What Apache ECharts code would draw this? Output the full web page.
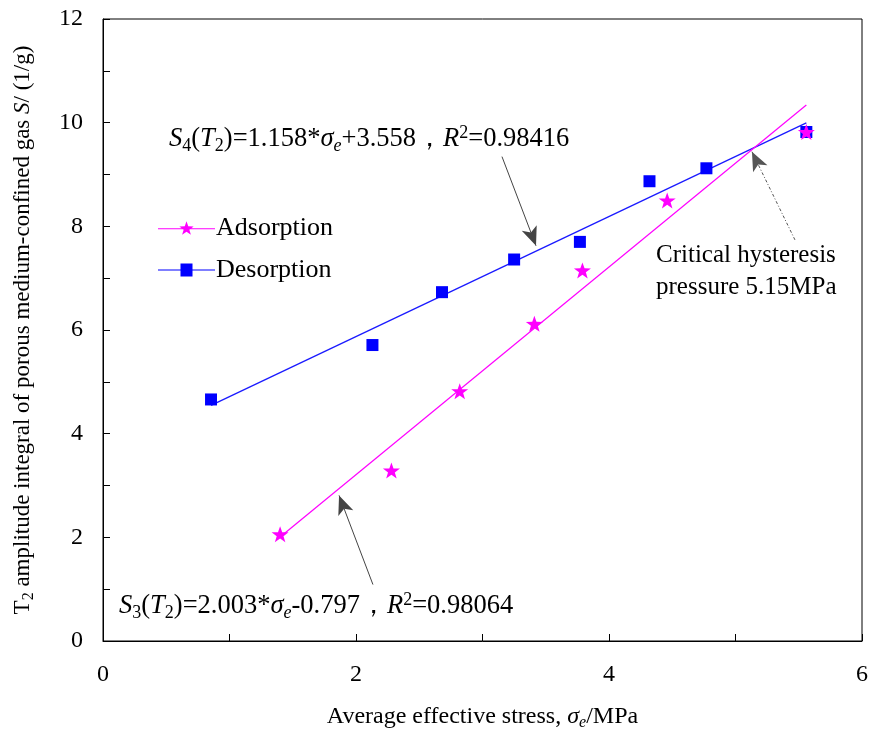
<!DOCTYPE html>
<html>
<head>
<meta charset="utf-8">
<script src="https://cdn.jsdelivr.net/npm/echarts@6/dist/echarts.min.js"></script>
<style>html,body{margin:0;padding:0;background:#fff}#c{width:875px;height:736px}</style>
</head>
<body>
<div id="c"></div>
<script>
// ---- data ----
const adsX = [1.40, 2.28, 2.82, 3.41, 3.79, 4.46, 5.56];
const adsY = [2.06, 3.29, 4.82, 6.12, 7.15, 8.50, 9.82];
const desX = [0.854, 2.13, 2.68, 3.25, 3.77, 4.32, 4.77, 5.56];
const desY = [4.66, 5.71, 6.73, 7.36, 7.70, 8.87, 9.12, 9.82];
// fitted lines (end points, from the printed regressions)
const adsFitX = [1.40, 5.56];
const adsFitY = [2.007, 10.34];
const desFitX = [0.854, 5.56];
const desFitY = [4.547, 9.996];
// annotation arrows [tailX, tailY, tipX, tipY] in data units
const arrowS4 = [3.154, 9.345, 3.423, 7.625];
const arrowS3 = [2.134, 1.089, 1.866, 2.809];
const arrowCrit = [5.470, 7.739, 5.130, 9.440];
const xTicks = {min: 0, max: 6, interval: 2};
const yTicks = {min: 0, max: 12, interval: 2};

const FONT = '"Liberation Serif","Times New Roman",serif';
const zip = (xs, ys) => xs.map((x, i) => [x, ys[i]]);

const STAR = 'path://M0,-7.5L1.763,-2.427L7.133,-2.318L2.853,0.927L4.408,6.068L0,3L-4.408,6.068L-2.853,0.927L-7.133,-2.318L-1.763,-2.427Z';
const STAR_LEG = 'path://M0,7L57,7L57,8L0,8Z M28.5,0L30.26,5.07L35.63,5.18L31.35,8.43L32.91,13.57L28.5,10.5L24.09,13.57L25.65,8.43L21.37,5.18L26.74,5.07Z';
const SQ_LEG = 'path://M0,7L57,7L57,8L0,8Z M22.5,1L34.5,1L34.5,14L22.5,14Z';

function mkRich(fs, sfs, lh) {
  return {
    n: {fontFamily: FONT, fontSize: fs, color: '#000', lineHeight: lh},
    i: {fontFamily: FONT, fontSize: fs, fontStyle: 'italic', color: '#000', lineHeight: lh},
    sub: {fontFamily: FONT, fontSize: sfs, color: '#000', lineHeight: sfs, verticalAlign: 'bottom'},
    isub: {fontFamily: FONT, fontSize: sfs, fontStyle: 'italic', color: '#000', lineHeight: sfs, verticalAlign: 'bottom'},
    sup: {fontFamily: FONT, fontSize: sfs, color: '#000', lineHeight: sfs, verticalAlign: 'top'}
  };
}
const richAnn = mkRich(26.5, 18, 31);
const richY = mkRich(23, 16, 28);
const richX = mkRich(24, 16, 28);

function arrowLine(a, dashed) {
  return {
    type: 'line', silent: true, data: [],
    markLine: {
      silent: true, animation: false,
      symbol: ['none', 'arrow'], symbolSize: [12, 19],
      label: {show: false},
      lineStyle: {color: dashed ? '#555' : '#444', width: 1, type: dashed ? [3, 2, 1, 2] : 'solid'},
      itemStyle: {color: '#000'},
      data: [[{coord: [a[0], a[1]]}, {coord: [a[2], a[3]]}]]
    }
  };
}

const chart = echarts.init(document.getElementById('c'));
chart.setOption({
  animation: false,
  backgroundColor: '#fff',
  grid: {left: 103, right: 13, top: 19, bottom: 89, show: true, borderColor: '#000', borderWidth: 1},
  xAxis: {
    type: 'value', min: xTicks.min, max: xTicks.max, interval: xTicks.interval,
    name: 'Average effective stress, {i|σ}{isub|e}{n|/MPa}',
    nameLocation: 'middle', nameGap: 62,
    nameTextStyle: {fontFamily: FONT, fontSize: 24, color: '#000', rich: richX},
    axisLine: {show: true, lineStyle: {color: '#000', width: 1}},
    axisTick: {show: true, inside: true, length: 7, lineStyle: {color: '#000'}},
    minorTick: {show: true, splitNumber: 2, length: 7, lineStyle: {color: '#000'}},
    axisLabel: {fontFamily: FONT, fontSize: 24, color: '#000', margin: 22},
    splitLine: {show: false}
  },
  yAxis: {
    type: 'value', min: yTicks.min, max: yTicks.max, interval: yTicks.interval,
    name: '{n|T}{sub|2}{n| amplitude integral of porous medium-confined gas }{i|S}{n|/ (1/g)}',
    nameLocation: 'middle', nameGap: 66,
    nameTextStyle: {fontFamily: FONT, fontSize: 23, color: '#000', rich: richY},
    axisLine: {show: true, lineStyle: {color: '#000', width: 1}},
    axisTick: {show: true, inside: true, length: 7, lineStyle: {color: '#000'}},
    minorTick: {show: true, splitNumber: 2, length: 7, lineStyle: {color: '#000'}},
    axisLabel: {fontFamily: FONT, fontSize: 24, color: '#000', margin: 20},
    splitLine: {show: false}
  },
  legend: {
    orient: 'vertical', left: 153, top: 210, itemGap: 16,
    itemWidth: 57, itemHeight: 14,
    textStyle: {fontFamily: FONT, fontSize: 26, color: '#000', padding: [0, 0, 0, -4]},
    data: [
      {name: 'Adsorption', icon: STAR_LEG},
      {name: 'Desorption', icon: SQ_LEG}
    ]
  },
  series: [
    {name: 'Desorption fit', type: 'line', data: zip(desFitX, desFitY), symbol: 'none',
     lineStyle: {color: '#1a1aff', width: 1.3}, silent: true, z: 2},
    {name: 'Adsorption fit', type: 'line', data: zip(adsFitX, adsFitY), symbol: 'none',
     lineStyle: {color: '#ff00ff', width: 1.2}, silent: true, z: 2},
    {name: 'Desorption', type: 'scatter', data: zip(desX, desY), symbol: 'rect', symbolSize: 12,
     itemStyle: {color: '#0000ff', opacity: 1}, z: 3},
    {name: 'Adsorption', type: 'scatter', data: zip(adsX, adsY), symbol: STAR, symbolSize: [17, 16],
     itemStyle: {color: '#ff00ff', opacity: 1}, z: 4},
    arrowLine(arrowS4, false),
    arrowLine(arrowS3, false),
    arrowLine(arrowCrit, true)
  ],
  graphic: [
    {type: 'text', left: 169, top: 124, silent: true,
     style: {text: '{i|S}{sub|4}{n|(}{i|T}{sub|2}{n|)=1.158*}{i|σ}{isub|e}{n|+3.558，}{i|R}{sup|2}{n|=0.98416}', rich: richAnn}},
    {type: 'text', left: 119, top: 591, silent: true,
     style: {text: '{i|S}{sub|3}{n|(}{i|T}{sub|2}{n|)=2.003*}{i|σ}{isub|e}{n|-0.797，}{i|R}{sup|2}{n|=0.98064}', rich: richAnn}},
    {type: 'text', left: 656, top: 239, silent: true,
     style: {text: 'Critical hysteresis\npressure 5.15MPa', font: '25px ' + FONT, fill: '#000', lineHeight: 32}}
  ]
});
</script>
</body>
</html>
